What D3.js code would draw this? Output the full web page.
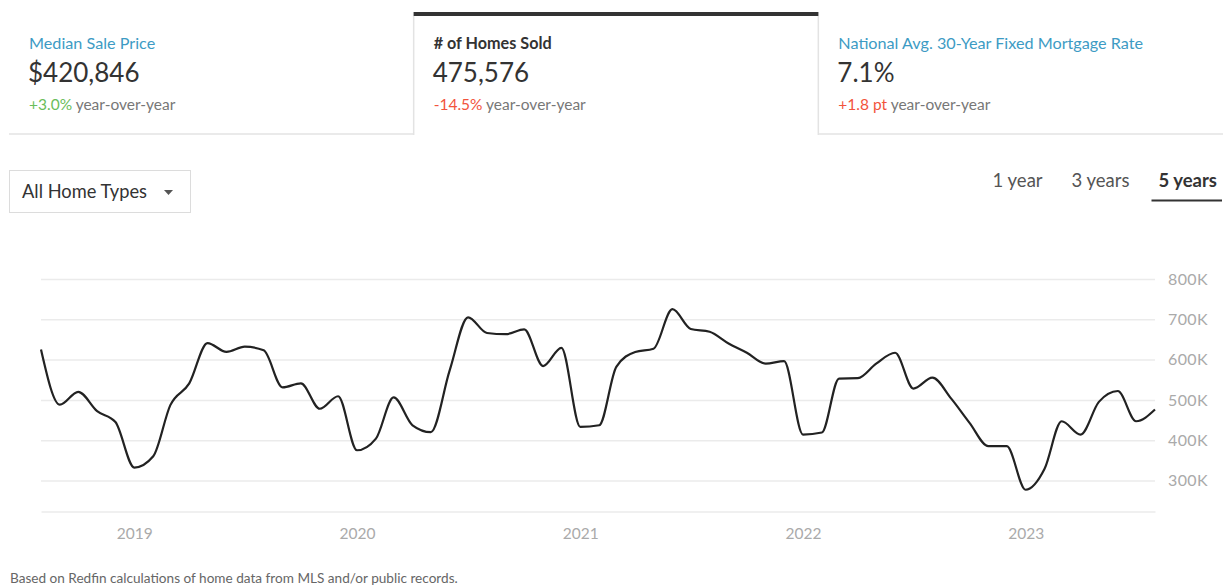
<!DOCTYPE html>
<html>
<head>
<meta charset="utf-8">
<script src="https://cdn.jsdelivr.net/npm/d3@7"></script>
<style>
  html, body { margin: 0; padding: 0; background: #fff; }
  body { font-family: Lato, "Open Sans", sans-serif; }
  #d3-container { width: 1223px; height: 588px; }
</style>
</head>
<body>
<div id="d3-container"></div>
<script>
/**
 * CONSTANTS AND GLOBALS
 * */
const width = 1223,
  height = 588,
  margin = { top: 279, bottom: 76.5, left: 41, right: 68 };

// monthly number of homes sold (thousands), Aug 2018 - Aug 2023
const months = [
  "2018-08", "2018-09", "2018-10", "2018-11", "2018-12",
  "2019-01", "2019-02", "2019-03", "2019-04", "2019-05", "2019-06",
  "2019-07", "2019-08", "2019-09", "2019-10", "2019-11", "2019-12",
  "2020-01", "2020-02", "2020-03", "2020-04", "2020-05", "2020-06",
  "2020-07", "2020-08", "2020-09", "2020-10", "2020-11", "2020-12",
  "2021-01", "2021-02", "2021-03", "2021-04", "2021-05", "2021-06",
  "2021-07", "2021-08", "2021-09", "2021-10", "2021-11", "2021-12",
  "2022-01", "2022-02", "2022-03", "2022-04", "2022-05", "2022-06",
  "2022-07", "2022-08", "2022-09", "2022-10", "2022-11", "2022-12",
  "2023-01", "2023-02", "2023-03", "2023-04", "2023-05", "2023-06",
  "2023-07", "2023-08"
];
const homesSold = [
  625, 488, 520, 472, 445,
  332, 360, 487, 541, 641, 619, 632, 623, 531, 541, 478, 509,
  375, 404, 506, 437, 420, 574, 705, 666, 663, 675, 584, 629,
  433, 437, 582, 619, 627, 725, 676, 669, 640, 617, 590, 596,
  414, 419, 553, 554, 590, 617, 528, 555, 503, 443, 385, 385,
  277, 329, 447, 414, 495, 522, 447, 476
];
const yTicks = [300000, 400000, 500000, 600000, 700000, 800000];
const xTicks = ["2019-01", "2020-01", "2021-01", "2022-01", "2023-01"];
const yDomain = [223000, 800000];

// header cards
const cards = [
  { title: "Median Sale Price", value: "$420,846", change: "+3.0%", trend: "up", selected: false },
  { title: "# of Homes Sold", value: "475,576", change: "-14.5%", trend: "down", selected: true },
  { title: "National Avg. 30-Year Fixed Mortgage Rate", value: "7.1%", change: "+1.8 pt", trend: "down", selected: false }
];
const periods = ["1 year", "3 years", "5 years"];
const selectedPeriod = "5 years";

const parseMonth = d3.timeParse("%Y-%m");
const fontFamily = "Lato, 'Open Sans', sans-serif";

let svg;
let xScale;
let yScale;
let state = { data: [] };

state.data = months.map((m, i) => ({ date: parseMonth(m), value: homesSold[i] * 1000 }));
init();

/**
 * INITIALIZING FUNCTION
 * */
function init() {
  svg = d3
    .select("#d3-container")
    .append("svg")
    .attr("width", width)
    .attr("height", height)
    .style("font-family", fontFamily);

  xScale = d3
    .scaleTime()
    .domain(d3.extent(state.data, d => d.date))
    .range([margin.left, width - margin.right]);

  yScale = d3
    .scaleLinear()
    .domain(yDomain)
    .range([height - margin.bottom, margin.top]);

  drawHeader();
  drawControls();
  draw();

  // footnote
  svg.append("text")
    .attr("x", 10)
    .attr("y", 583)
    .attr("fill", "#666")
    .attr("font-size", 13.6)
    .text("Based on Redfin calculations of home data from MLS and/or public records.");
}

function drawHeader() {
  const cardW = (width - 9) / 3,
    cardTop = 12,
    cardBottom = 134;

  const card = svg
    .selectAll("g.card")
    .data(cards)
    .join("g")
    .attr("class", "card")
    .attr("transform", (d, i) => `translate(${9 + i * cardW},0)`);

  // bottom border on the unselected cards, side borders + dark top bar on the selected one
  card.filter(d => !d.selected)
    .append("line")
    .attr("x1", 0).attr("x2", cardW)
    .attr("y1", cardBottom).attr("y2", cardBottom)
    .attr("stroke", "#e3e3e3")
    .attr("stroke-width", 1.5);

  const sel = card.filter(d => d.selected);
  sel.append("path")
    .attr("d", `M0,${cardTop}V${cardBottom + 1}M${cardW},${cardTop}V${cardBottom + 1}`)
    .attr("stroke", "#e3e3e3")
    .attr("stroke-width", 1.5)
    .attr("fill", "none");
  sel.append("rect")
    .attr("x", 0).attr("y", cardTop)
    .attr("width", cardW).attr("height", 4)
    .attr("fill", "#333");

  card.append("text")
    .attr("x", 20)
    .attr("y", 49)
    .attr("font-size", 16.2)
    .attr("font-weight", d => d.selected ? 700 : 400)
    .attr("fill", d => d.selected ? "#333" : "#3d9bc4")
    .text(d => d.title);

  card.append("text")
    .attr("x", 19)
    .attr("y", 82)
    .attr("font-size", 26)
    .attr("fill", "#333")
    .text(d => d.value);

  const ch = card.append("text")
    .attr("x", 20)
    .attr("y", 110)
    .attr("font-size", 15.5);
  ch.append("tspan")
    .attr("fill", d => d.trend === "up" ? "#6abd5a" : "#f2533c")
    .text(d => d.change);
  ch.append("tspan")
    .attr("fill", "#777")
    .text(" year-over-year");
}

function drawControls() {
  // home type dropdown
  const dd = svg.append("g").attr("class", "dropdown");
  dd.append("rect")
    .attr("x", 9.5).attr("y", 170.5)
    .attr("width", 181).attr("height", 42)
    .attr("fill", "#fff")
    .attr("stroke", "#dcdcdc");
  dd.append("text")
    .attr("x", 22)
    .attr("y", 198)
    .attr("font-size", 18.3)
    .attr("fill", "#333")
    .text("All Home Types");
  dd.append("path")
    .attr("d", "M164,190h9l-4.5,5z")
    .attr("fill", "#555");

  // period tabs, right aligned
  const tabs = svg.append("g").attr("class", "tabs");
  const tabRight = 1217,
    gap = 29;
  let x = tabRight;
  periods.slice().reverse().forEach(p => {
    const t = tabs.append("text")
      .attr("y", 187)
      .attr("font-size", 18.5)
      .attr("font-weight", p === selectedPeriod ? 700 : 400)
      .attr("fill", p === selectedPeriod ? "#333" : "#555")
      .attr("text-anchor", "end")
      .attr("x", x)
      .text(p);
    const w = t.node().getComputedTextLength();
    if (p === selectedPeriod) {
      tabs.append("rect")
        .attr("x", x - w - 7)
        .attr("y", 199.5)
        .attr("width", w + 12)
        .attr("height", 2)
        .attr("fill", "#333");
    }
    x -= w + gap;
  });
}

/**
 * DRAW FUNCTION
 * */
function draw() {
  const formatK = d => `${d / 1000}K`;

  // horizontal gridlines with labels on the right
  const yAxis = d3.axisRight(yScale)
    .tickValues(yTicks)
    .tickSize(width - margin.right - margin.left)
    .tickPadding(13)
    .tickFormat(formatK);

  svg.append("g")
    .attr("class", "axis y-axis")
    .attr("transform", `translate(${margin.left},0)`)
    .call(yAxis)
    .call(g => g.select(".domain").remove())
    .call(g => g.selectAll(".tick line").attr("stroke", "#ebebeb").attr("stroke-width", 1.5))
    .call(g => g.selectAll(".tick text")
      .attr("fill", "#aaa")
      .attr("font-size", 16)
      .attr("letter-spacing", 0.4)
      .attr("font-family", fontFamily));

  // baseline + year labels
  const xAxis = d3.axisBottom(xScale)
    .tickValues(xTicks.map(parseMonth))
    .tickSize(0)
    .tickPadding(16)
    .tickFormat(d3.timeFormat("%Y"));

  svg.append("g")
    .attr("class", "axis x-axis")
    .attr("transform", `translate(0,${yScale.range()[0]})`)
    .call(xAxis)
    .call(g => g.select(".domain").attr("stroke", "#ebebeb").attr("stroke-width", 1.5))
    .call(g => g.selectAll(".tick text")
      .attr("fill", "#aaa")
      .attr("font-size", 15.5)
      .attr("font-family", fontFamily));

  const lineFunc = d3
    .line()
    .curve(d3.curveMonotoneX)
    .x(d => xScale(d.date))
    .y(d => yScale(d.value));

  svg.selectAll("path.trend")
    .data([state.data])
    .join("path")
    .attr("class", "trend")
    .attr("fill", "none")
    .attr("stroke", "#222")
    .attr("stroke-width", 2.2)
    .attr("stroke-linejoin", "round")
    .attr("d", d => lineFunc(d));
}
</script>
</body>
</html>
